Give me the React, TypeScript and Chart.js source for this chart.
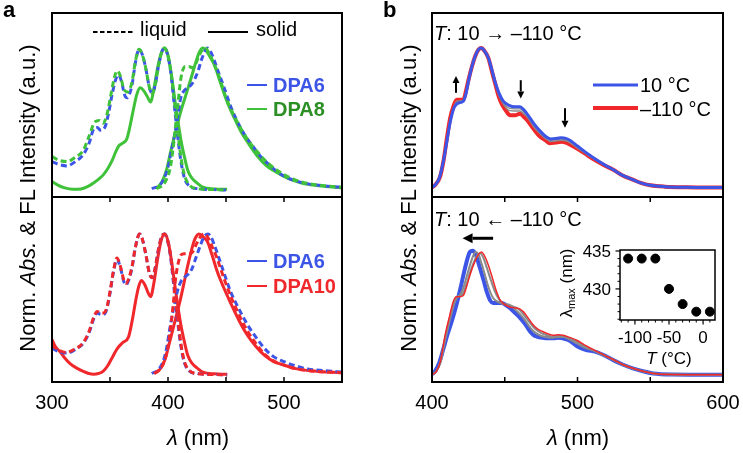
import React, { useEffect, useRef } from "react";
import { Chart, registerables } from "chart.js";
Chart.register(...registerables);

const W = 743;
const H = 453;
const FONT = '"Liberation Sans", Arial, Helvetica, sans-serif';

type Pt = [number, number];

// ---------- Panel a (top): DPA6 / DPA8 ----------
const dpa6LiquidAbsTop: Pt[] = [[300,0.20],[306,0.18],[313,0.17],[320,0.20],[327,0.25],[332,0.33],[336,0.43],[339,0.44],[342,0.42],[346,0.45],[349,0.55],[352,0.68],[355,0.78],[357.5,0.81],[360,0.76],[363,0.66],[365,0.65],[367,0.68],[369,0.74],[372,0.90],[375,0.99],[378,0.95],[381,0.85],[384,0.72],[386.5,0.68],[389,0.74],[392,0.88],[395,0.98],[397,1.0],[399,0.97],[402,0.85],[405,0.63],[408,0.40],[411,0.21],[414,0.09],[418,0.03],[425,0.01],[440,0.003],[451,0]];
const dpa8LiquidAbs: Pt[] = [[300,0.235],[306,0.21],[313,0.20],[320,0.23],[327,0.28],[332,0.38],[337,0.48],[341,0.49],[344,0.47],[347,0.52],[351,0.68],[354,0.80],[356.5,0.84],[359,0.80],[362,0.71],[365,0.69],[367,0.71],[369,0.76],[372,0.91],[375,0.99],[378,0.95],[381,0.85],[384,0.72],[386.5,0.68],[389,0.74],[392,0.88],[395,0.98],[397,1.0],[399,0.97],[402,0.86],[405,0.66],[408,0.44],[411,0.24],[414,0.11],[418,0.04],[425,0.01],[440,0.003],[451,0]];
const dpa8SolidAbs: Pt[] = [[300,0.06],[305,0.035],[311,0.015],[318,0.005],[325,0.008],[333,0.035],[340,0.075],[344,0.105],[348,0.15],[352,0.21],[355,0.27],[357.5,0.31],[361,0.33],[364.5,0.36],[367,0.44],[370,0.56],[373,0.67],[376,0.72],[379,0.70],[382,0.66],[385,0.62],[388,0.72],[391,0.86],[394,0.96],[397,1.0],[400,0.95],[403,0.81],[406.5,0.60],[411,0.36],[414,0.24],[417,0.14],[421,0.08],[425,0.05],[430,0.02],[440,0.008],[451,0.005]];
const dpa6LiquidEmTop: Pt[] = [[386,0.01],[392,0.03],[396,0.07],[400,0.16],[403,0.28],[406,0.40],[408.5,0.52],[411,0.65],[414,0.70],[417,0.72],[420,0.74],[423,0.78],[426,0.84],[429,0.92],[432,0.98],[434,1.0],[437,0.97],[440,0.91],[443,0.84],[448,0.73],[454,0.59],[460,0.48],[466,0.39],[473,0.31],[480,0.235],[487,0.18],[494,0.13],[502,0.09],[510,0.065],[520,0.045],[530,0.033],[540,0.025],[550,0.02]];
const dpa8LiquidEm: Pt[] = [[390,0.01],[395,0.03],[399,0.08],[402,0.16],[404.5,0.30],[406.5,0.45],[409,0.64],[411,0.78],[413,0.85],[415,0.87],[418,0.87],[421,0.86],[424,0.89],[427,0.95],[430,0.99],[432,1.0],[435,0.97],[439,0.90],[444,0.80],[450,0.65],[456,0.54],[463,0.43],[470,0.34],[478,0.26],[486,0.19],[494,0.14],[502,0.10],[512,0.065],[522,0.045],[535,0.03],[550,0.02]];
const dpa8SolidEm: Pt[] = [[390,0.01],[395,0.06],[399,0.15],[402,0.26],[405,0.36],[408,0.46],[412,0.58],[416.6,0.70],[420,0.79],[424,0.90],[427,0.97],[430,1.0],[433,0.98],[436,0.94],[440,0.88],[445,0.76],[451,0.62],[457,0.51],[463,0.41],[470,0.32],[477,0.24],[485,0.17],[494.5,0.12],[504,0.08],[515,0.05],[530,0.03],[550,0.015]];

// ---------- Panel a (bottom): DPA6 / DPA10 ----------
const dpa6LiquidAbsBot: Pt[] = [[300,0.19],[306,0.165],[313,0.155],[320,0.18],[327,0.225],[332,0.30],[336,0.40],[339,0.44],[342,0.43],[344.5,0.43],[347,0.46],[350,0.58],[353,0.73],[356,0.82],[359,0.76],[362,0.66],[364,0.64],[366,0.67],[369,0.76],[372,0.91],[375.5,1.0],[378,0.96],[381,0.85],[384,0.72],[386.5,0.69],[389,0.76],[392,0.90],[395,0.99],[397,1.0],[399,0.97],[402,0.85],[405,0.63],[408,0.40],[411,0.21],[414,0.09],[418,0.03],[425,0.01],[440,0.003],[451,0]];
const dpa10LiquidAbs: Pt[] = [[300,0.21],[305,0.18],[312,0.16],[320,0.185],[327,0.23],[332,0.31],[336,0.41],[339,0.45],[342,0.44],[344.5,0.44],[347,0.47],[350,0.59],[353,0.74],[356,0.83],[359,0.77],[362,0.67],[364,0.65],[366,0.68],[369,0.77],[372,0.91],[375.5,1.0],[378,0.96],[381,0.85],[384,0.72],[386.5,0.69],[389,0.76],[392,0.90],[395,0.99],[397,1.0],[399,0.97],[402,0.86],[405,0.66],[408,0.43],[411,0.23],[414,0.10],[418,0.035],[425,0.01],[440,0.003],[451,0]];
const dpa10SolidAbs: Pt[] = [[300,0.25],[303,0.20],[307,0.165],[311,0.12],[315.6,0.08],[321,0.05],[327,0.025],[331,0.012],[336,0.005],[340,0.01],[344,0.025],[348,0.065],[351.7,0.12],[355,0.17],[357.5,0.20],[361,0.23],[366,0.27],[369,0.38],[372,0.52],[374.5,0.62],[377,0.67],[380,0.64],[383,0.58],[385,0.555],[388,0.66],[391,0.82],[394,0.95],[397,1.0],[400,0.95],[403,0.81],[406.5,0.60],[411,0.36],[414,0.24],[417,0.14],[421,0.08],[425,0.05],[430,0.02],[440,0.008],[451,0.005]];
const dpa6LiquidEmBot: Pt[] = [[386,0.01],[392,0.04],[396,0.10],[399,0.20],[402,0.35],[405,0.48],[408,0.59],[411,0.66],[414,0.69],[418,0.72],[421,0.76],[424,0.83],[428,0.92],[431,0.98],[434.5,1.0],[437,0.98],[440,0.92],[443,0.85],[448,0.73],[454,0.59],[461,0.47],[468.6,0.355],[476,0.265],[483,0.19],[491,0.13],[500,0.094],[510,0.065],[520.5,0.042],[535,0.03],[550,0.02]];
const dpa10LiquidEm: Pt[] = [[388,0.01],[393,0.04],[397,0.10],[400,0.20],[402,0.32],[404.5,0.50],[406.5,0.68],[409,0.80],[411,0.85],[414,0.86],[418,0.86],[421,0.87],[424,0.92],[428,0.98],[431,1.0],[434,0.98],[438,0.91],[442.6,0.82],[448,0.69],[454,0.56],[461,0.43],[468.6,0.31],[476,0.22],[483,0.15],[491,0.10],[500,0.07],[510,0.045],[525,0.028],[550,0.015]];
const dpa10SolidEm: Pt[] = [[388,0.01],[393,0.04],[397,0.10],[401,0.22],[405,0.35],[410.8,0.54],[414,0.66],[416.6,0.76],[419.5,0.86],[422.3,0.945],[424.5,0.985],[426.6,1.0],[429,0.99],[431.5,0.97],[434,0.945],[438,0.85],[442.6,0.73],[448,0.62],[454,0.51],[461,0.39],[468.6,0.28],[476,0.20],[483,0.14],[491,0.095],[500,0.07],[510,0.045],[525,0.028],[550,0.015]];

// ---------- Panel b (top): cooling 10 -> -110 C ----------
const coolBlue10: Pt[] = [[400,0.005],[402,0.02],[405,0.07],[408,0.20],[410,0.32],[412.5,0.47],[415,0.57],[417,0.60],[419,0.61],[421.5,0.62],[423.5,0.68],[425,0.76],[427.5,0.87],[430,0.95],[432,0.99],[434,1.0],[436,0.98],[438.7,0.93],[441,0.85],[443.3,0.76],[446,0.68],[449,0.62],[453,0.59],[457,0.58],[460.5,0.58],[463,0.56],[466,0.52],[470,0.46],[474,0.41],[478,0.37],[482,0.35],[486,0.355],[489,0.36],[492,0.355],[495,0.34],[500,0.30],[505,0.26],[512,0.21],[518,0.17],[524.6,0.13],[531,0.09],[538,0.06],[544,0.035],[550,0.02],[560,0.01],[575,0.005],[600,0.003]];
const coolGrayA: Pt[] = [[400,0.005],[402,0.02],[405,0.075],[408,0.20],[410,0.33],[412.5,0.48],[415,0.575],[417,0.61],[419,0.615],[421.5,0.625],[423.5,0.69],[425,0.765],[427.5,0.87],[430,0.95],[432,0.99],[434,1.0],[436,0.98],[438.7,0.93],[441,0.85],[443.3,0.755],[446,0.67],[449,0.61],[453,0.57],[457,0.565],[460.5,0.565],[463,0.545],[466,0.51],[470,0.45],[474,0.40],[478,0.36],[482,0.34],[486,0.345],[489,0.35],[492,0.345],[495,0.33],[500,0.29],[505,0.255],[512,0.205],[518,0.168],[524.6,0.13],[531,0.09],[538,0.06],[544,0.035],[550,0.02],[560,0.01],[575,0.005],[600,0.003]];
const coolGrayB: Pt[] = [[400,0.005],[402,0.02],[405,0.077],[408,0.20],[410,0.335],[412.5,0.49],[415,0.578],[417,0.62],[419,0.622],[421.5,0.628],[423.5,0.695],[425,0.768],[427.5,0.87],[430,0.95],[432,0.99],[434,1.0],[436,0.98],[438.7,0.93],[441,0.845],[443.3,0.752],[446,0.66],[449,0.60],[453,0.555],[457,0.55],[460.5,0.55],[463,0.53],[466,0.50],[470,0.435],[474,0.39],[478,0.352],[482,0.332],[486,0.337],[489,0.34],[492,0.337],[495,0.322],[500,0.285],[505,0.25],[512,0.202],[518,0.166],[524.6,0.13],[531,0.09],[538,0.06],[544,0.035],[550,0.02],[560,0.01],[575,0.005],[600,0.003]];
const coolRed110: Pt[] = [[400,0.005],[402,0.02],[405.5,0.08],[408,0.20],[410,0.34],[412.5,0.50],[414.6,0.58],[417,0.63],[419,0.63],[421.5,0.63],[423.5,0.70],[425,0.77],[427.5,0.87],[429.6,0.94],[432,0.99],[434,1.0],[436,0.98],[438.7,0.93],[441,0.84],[443.3,0.75],[446,0.65],[448,0.60],[451,0.55],[453.6,0.52],[457,0.52],[460.5,0.53],[463,0.51],[465,0.49],[470,0.42],[474,0.37],[478,0.34],[481,0.32],[485,0.325],[489,0.33],[492,0.325],[495,0.31],[501.7,0.27],[506,0.24],[512,0.20],[518,0.165],[524.6,0.13],[531,0.09],[538,0.06],[544,0.035],[550,0.02],[560,0.01],[575,0.005],[600,0.003]];

// ---------- Panel b (bottom): heating -110 -> 10 C ----------
const heatRed110: Pt[] = [[400,0.005],[403,0.027],[406,0.12],[409,0.32],[412,0.47],[414.6,0.59],[417,0.63],[419,0.63],[421.5,0.64],[424,0.72],[426,0.80],[429,0.90],[432,0.97],[434,0.99],[436,0.96],[438.7,0.885],[441,0.80],[444.4,0.67],[447,0.60],[451,0.56],[454,0.545],[458,0.54],[460.5,0.53],[462.7,0.51],[466,0.46],[469,0.41],[472,0.375],[476,0.35],[480,0.33],[483.4,0.32],[487,0.325],[490,0.32],[494,0.305],[499.5,0.28],[505,0.24],[510,0.21],[515,0.18],[520,0.15],[524.6,0.125],[531,0.085],[538,0.054],[545,0.03],[552,0.013],[565,0.005],[600,0.003]];
const heatGrayA: Pt[] = [[400,0.005],[403,0.028],[406,0.115],[409,0.30],[412,0.45],[414.6,0.57],[417,0.63],[419,0.635],[421.5,0.66],[424,0.74],[426,0.82],[428.5,0.90],[431,0.96],[433,0.98],[435,0.95],[437.5,0.87],[440,0.78],[443,0.68],[446,0.61],[449,0.575],[452,0.56],[456,0.55],[459,0.535],[462,0.50],[465,0.455],[468,0.41],[471,0.37],[475,0.34],[479,0.32],[483,0.31],[487,0.315],[490,0.31],[494,0.30],[499.5,0.27],[505,0.23],[510,0.205],[515,0.178],[520,0.15],[524.6,0.123],[531,0.085],[538,0.054],[545,0.03],[552,0.013],[565,0.005],[600,0.003]];
const heatGrayB: Pt[] = [[400,0.005],[403,0.03],[406,0.11],[409,0.28],[412,0.43],[414.6,0.55],[417,0.62],[419,0.64],[421.5,0.70],[424,0.80],[426,0.88],[428,0.95],[430,0.99],[432,0.97],[434,0.90],[436,0.82],[439,0.70],[442,0.62],[445,0.59],[448,0.575],[451,0.57],[454,0.56],[457,0.53],[460.5,0.49],[464,0.44],[467,0.39],[470,0.35],[474,0.32],[478,0.305],[482,0.30],[486,0.305],[490,0.305],[494,0.29],[499.5,0.255],[505,0.22],[510,0.2],[515,0.175],[520,0.148],[524.6,0.122],[531,0.085],[538,0.054],[545,0.03],[552,0.013],[565,0.005],[600,0.003]];
const heatBlue10: Pt[] = [[400,0.005],[402,0.03],[405,0.10],[407.8,0.21],[410.5,0.32],[413.5,0.43],[416,0.53],[418,0.62],[420,0.72],[421.5,0.80],[424,0.92],[426,0.99],[428,1.0],[430,0.97],[433,0.86],[435.5,0.76],[437.6,0.67],[440,0.60],[442,0.58],[445,0.58],[448,0.58],[451,0.56],[453.6,0.54],[457,0.50],[460.5,0.46],[464,0.41],[467.4,0.35],[470,0.32],[472,0.31],[476,0.30],[480,0.295],[483.4,0.295],[487,0.30],[490,0.295],[494,0.28],[500,0.23],[505,0.205],[513,0.185],[519,0.155],[524.6,0.12],[531,0.085],[538,0.054],[545,0.03],[552,0.013],[565,0.005],[600,0.003]];

// ---------- Inset ----------
const insetT = [-110, -90, -70, -50, -30, -10, 10];
const insetLambdaMax = [434, 434, 434, 430, 428, 427, 427];

// ---------- Ticks ----------
const aTopEdgeTicks = [350, 400, 450, 500];
const aBottomTicks = [300, 350, 400, 450, 500, 550];
const aTickLabels = [300, 400, 500];
const bTopEdgeTicks = [450, 500, 550];
const bBottomTicks = [400, 450, 500, 550, 600];
const bTickLabels = [400, 500, 600];
const insetXMajor = [-100, -50, 0];
const insetXMinor = [-120, -110, -90, -80, -70, -60, -40, -30, -20, -10, 10];
const insetYMajor = [430, 435];
const insetYMinor = [426, 427, 428, 429, 431, 432, 433, 434];

const BLUE = "#3c55e6";
const GREEN = "#3fc23a";
const RED = "#f0282c";
const GRAY = "#8a8a8a";

const toXY = (a: Pt[]) => a.map(([x, y]) => ({ x, y }));

function line(data: Pt[], color: string, width: number, dashed = false) {
  return {
    type: "line",
    data: toXY(data),
    borderColor: color,
    borderWidth: width,
    borderDash: dashed ? [6, 3.5] : [],
    pointRadius: 0,
    fill: false,
    cubicInterpolationMode: "monotone",
  };
}

const decoPlugin = {
  id: "deco",
  afterDatasetsDraw(chart: any, _args: any, opts: any) {
    const { ctx, chartArea: a, scales } = chart;
    ctx.save();
    ctx.strokeStyle = "#000";
    ctx.fillStyle = "#000";
    ctx.setLineDash([]);
    ctx.lineWidth = opts.frameWidth ?? 2;
    ctx.strokeRect(a.left, a.top, a.right - a.left, a.bottom - a.top);
    (opts.ticks || []).forEach((t: any) => {
      const sc = scales[t.axis];
      ctx.lineWidth = t.width ?? 1.5;
      t.values.forEach((v: number) => {
        const p = sc.getPixelForValue(v);
        ctx.beginPath();
        if (t.axis === "x") {
          ctx.moveTo(p, a.bottom);
          ctx.lineTo(p, a.bottom + t.len);
        } else {
          ctx.moveTo(a.left, p);
          ctx.lineTo(a.left + t.len, p);
        }
        ctx.stroke();
      });
    });
    (opts.labels || []).forEach((l: any) => {
      const sc = scales[l.axis];
      ctx.font = l.font;
      ctx.textBaseline = "middle";
      l.values.forEach((v: number) => {
        const p = sc.getPixelForValue(v);
        if (l.axis === "x") {
          ctx.textAlign = "center";
          ctx.fillText(String(v), p + (l.dx ?? 0), a.bottom + l.offset);
        } else {
          ctx.textAlign = "right";
          ctx.fillText(String(v), a.left - l.offset, p + 1);
        }
      });
    });
    (opts.arrows || []).forEach((ar: any) => {
      const x0 = scales.x.getPixelForValue(ar.from[0]);
      const y0 = scales.y.getPixelForValue(ar.from[1]);
      const x1 = scales.x.getPixelForValue(ar.to[0]);
      const y1 = scales.y.getPixelForValue(ar.to[1]);
      const ang = Math.atan2(y1 - y0, x1 - x0);
      const hl = ar.headLen, hw = ar.headWidth;
      const bx = x1 - hl * Math.cos(ang);
      const by = y1 - hl * Math.sin(ang);
      ctx.lineWidth = ar.width;
      ctx.beginPath();
      ctx.moveTo(x0, y0);
      ctx.lineTo(bx, by);
      ctx.stroke();
      ctx.beginPath();
      ctx.moveTo(x1, y1);
      ctx.lineTo(bx + hw * Math.sin(ang), by - hw * Math.cos(ang));
      ctx.lineTo(bx - hw * Math.sin(ang), by + hw * Math.cos(ang));
      ctx.closePath();
      ctx.fill();
    });
    ctx.restore();
  },
};

function makeConfig(box: number[], xr: number[], yr: number[], datasets: any[], deco: any) {
  return {
    type: "line",
    data: { datasets },
    options: {
      animation: false,
      responsive: false,
      devicePixelRatio: 1,
      events: [],
      layout: { padding: { left: box[0], top: box[1], right: W - box[2], bottom: H - box[3] } },
      scales: {
        x: { type: "linear", min: xr[0], max: xr[1], display: false },
        y: { type: "linear", min: yr[0], max: yr[1], display: false },
      },
      plugins: { legend: { display: false }, tooltip: { enabled: false }, title: { display: false }, deco },
    },
    plugins: [decoPlugin],
  };
}

const tickFont = `20px ${FONT}`;

const configs = [
  makeConfig([52, 13, 342, 197], [300, 550], [-0.049, 1.246], [
    line(dpa8LiquidAbs, GREEN, 3, true),
    line(dpa8LiquidEm, GREEN, 3, true),
    line(dpa6LiquidAbsTop, BLUE, 3, true),
    line(dpa6LiquidEmTop, BLUE, 3, true),
    line(dpa8SolidAbs, GREEN, 3),
    line(dpa8SolidEm, GREEN, 3),
  ], { ticks: [{ axis: "x", values: aTopEdgeTicks, len: 5 }] }),
  makeConfig([52, 197, 342, 382], [300, 550], [-0.05, 1.262], [
    line(dpa10LiquidAbs, RED, 3, true),
    line(dpa10LiquidEm, RED, 3, true),
    line(dpa6LiquidAbsBot, BLUE, 3, true),
    line(dpa6LiquidEmBot, BLUE, 3, true),
    line(dpa10SolidAbs, RED, 3),
    line(dpa10SolidEm, RED, 3),
  ], {
    ticks: [{ axis: "x", values: aBottomTicks, len: -5 }],
    labels: [{ axis: "x", values: aTickLabels, offset: 21, font: tickFont }],
  }),
  makeConfig([432, 13, 723, 197], [400, 600], [-0.064, 1.25], [
    line(coolBlue10, BLUE, 3),
    line(coolGrayA, GRAY, 1.3),
    line(coolGrayB, GRAY, 1.3),
    line(coolRed110, RED, 4),
  ], {
    ticks: [{ axis: "x", values: bTopEdgeTicks, len: 5 }],
    arrows: [
      { from: [416.5, 0.68], to: [416.5, 0.8], width: 2, headLen: 7, headWidth: 3.5 },
      { from: [461, 0.77], to: [461, 0.64], width: 2, headLen: 7, headWidth: 3.5 },
      { from: [491.4, 0.57], to: [491.4, 0.43], width: 2, headLen: 7, headWidth: 3.5 },
    ],
  }),
  makeConfig([432, 197, 723, 382], [400, 600], [-0.056, 1.432], [
    line(heatRed110, RED, 1.5),
    line(heatGrayA, GRAY, 2),
    line(heatGrayB, GRAY, 2),
    line(heatBlue10, BLUE, 4),
  ], {
    ticks: [{ axis: "x", values: bBottomTicks, len: -5 }],
    labels: [{ axis: "x", values: bTickLabels, offset: 21, font: tickFont }],
    arrows: [{ from: [442, 1.1], to: [421, 1.1], width: 3, headLen: 10, headWidth: 5 }],
  }),
  makeConfig([620, 250, 715, 320], [-121.9, 17.5], [425.9, 435.13], [
    {
      type: "scatter",
      data: insetT.map((t, i) => ({ x: t, y: insetLambdaMax[i] })),
      pointRadius: 4.5,
      pointBackgroundColor: "#000",
      pointBorderColor: "#000",
      showLine: false,
    },
  ], {
    frameWidth: 1.5,
    ticks: [
      { axis: "x", values: insetXMajor, len: 4.5, width: 1.2 },
      { axis: "x", values: insetXMinor, len: 2.5, width: 1 },
      { axis: "y", values: insetYMajor, len: -4.5, width: 1.2 },
      { axis: "y", values: insetYMinor, len: -2.5, width: 1 },
    ],
    labels: [
      { axis: "x", values: insetXMajor, offset: 18, font: `17px ${FONT}` },
      { axis: "y", values: insetYMajor, offset: 9, font: `17px ${FONT}` },
    ],
  }),
];

function ChartCanvas({ config }: { config: any }) {
  const ref = useRef<HTMLCanvasElement>(null);
  useEffect(() => {
    const c = new Chart(ref.current as HTMLCanvasElement, config);
    return () => c.destroy();
  }, [config]);
  return (
    <canvas
      ref={ref}
      width={W}
      height={H}
      style={{ position: "absolute", left: 0, top: 0, width: W, height: H }}
    />
  );
}

const txt = (left: number, top: number, size: number, extra: React.CSSProperties = {}): React.CSSProperties => ({
  position: "absolute",
  left,
  top,
  fontSize: size,
  lineHeight: 1,
  whiteSpace: "nowrap",
  fontFamily: FONT,
  color: "#000",
  ...extra,
});

const rot = (cx: number, cy: number, size: number): React.CSSProperties => ({
  position: "absolute",
  left: cx,
  top: cy,
  fontSize: size,
  lineHeight: 1,
  whiteSpace: "nowrap",
  fontFamily: FONT,
  color: "#000",
  transform: "translate(-50%, -50%) rotate(-90deg)",
});

const ctr = (cx: number, cy: number, size: number): React.CSSProperties => ({
  position: "absolute",
  left: cx,
  top: cy,
  fontSize: size,
  lineHeight: 1,
  whiteSpace: "nowrap",
  fontFamily: FONT,
  color: "#000",
  transform: "translate(-50%, -50%)",
});

export default function App() {
  return (
    <div style={{ position: "fixed", left: 0, top: 0, width: W, height: H, background: "#fff", overflow: "hidden" }}>
      {configs.map((c, i) => (
        <ChartCanvas key={i} config={c} />
      ))}
      <svg width={W} height={H} style={{ position: "absolute", left: 0, top: 0, pointerEvents: "none" }}>
        <line x1={93} y1={32} x2={135} y2={32} stroke="#000" strokeWidth={2} strokeDasharray="4.5 2.5" />
        <line x1={208} y1={32} x2={248} y2={32} stroke="#000" strokeWidth={2} />
        <line x1={247} y1={85} x2={267} y2={85} stroke={BLUE} strokeWidth={2} />
        <line x1={247} y1={109} x2={267} y2={109} stroke={GREEN} strokeWidth={2} />
        <line x1={247} y1={261} x2={267} y2={261} stroke={BLUE} strokeWidth={2} />
        <line x1={247} y1={286} x2={267} y2={286} stroke={RED} strokeWidth={2} />
        <line x1={593} y1={85} x2={638} y2={85} stroke={BLUE} strokeWidth={3} />
        <line x1={593} y1={108} x2={638} y2={108} stroke={RED} strokeWidth={4} />
      </svg>

      <div style={txt(3, -1, 22, { fontWeight: "bold" })}>a</div>
      <div style={txt(383, -1, 22, { fontWeight: "bold" })}>b</div>

      <div style={txt(140, 19, 20)}>liquid</div>
      <div style={txt(256, 19, 20)}>solid</div>
      <div style={txt(273, 75, 20, { fontWeight: "bold", color: BLUE })}>DPA6</div>
      <div style={txt(273, 99, 20, { fontWeight: "bold", color: "#2b8f25" })}>DPA8</div>
      <div style={txt(273, 251, 20, { fontWeight: "bold", color: BLUE })}>DPA6</div>
      <div style={txt(273, 276, 20, { fontWeight: "bold", color: RED })}>DPA10</div>

      <div style={txt(434, 22.5, 20)}>
        <i>T</i>: 10 → –110 °C
      </div>
      <div style={txt(434, 209, 20)}>
        <i>T</i>: 10 ← –110 °C
      </div>
      <div style={txt(640, 75, 20)}>10 °C</div>
      <div style={txt(640, 98.5, 20)}>–110 °C</div>

      <div style={rot(28, 198, 22)}>
        Norm. <i>Abs.</i> &amp; FL Intensity (a.u.)
      </div>
      <div style={rot(409, 198, 22)}>
        Norm. <i>Abs.</i> &amp; FL Intensity (a.u.)
      </div>
      <div style={ctr(198, 438, 22)}>
        <i>λ</i> (nm)
      </div>
      <div style={ctr(578, 438, 22)}>
        <i>λ</i> (nm)
      </div>

      <div style={ctr(669, 357.5, 17)}>
        <i>T</i> (°C)
      </div>
      <div style={rot(567, 283, 17)}>
        λ<sub style={{ fontSize: 11, verticalAlign: "-3px" }}>max</sub> (nm)
      </div>
    </div>
  );
}
